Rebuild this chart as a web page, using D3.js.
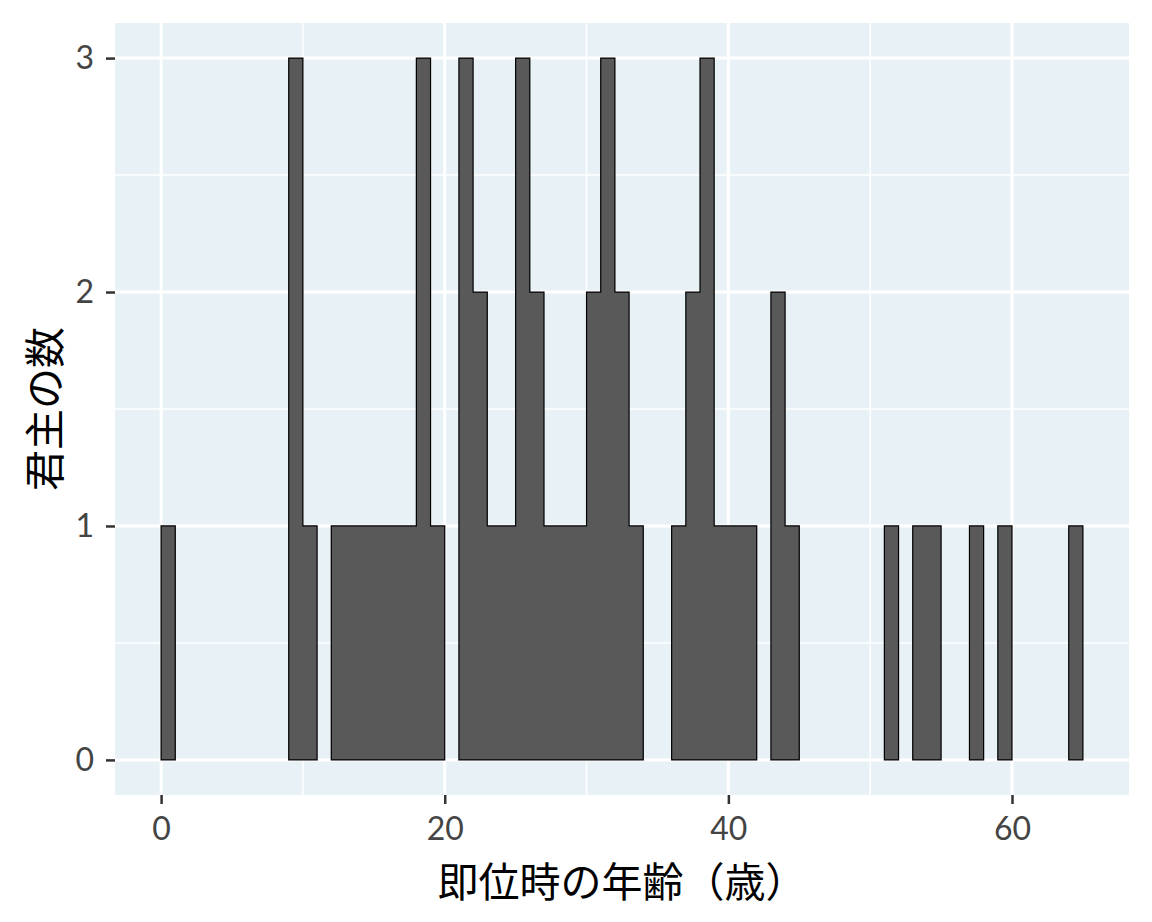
<!DOCTYPE html>
<meta charset="utf-8">
<style>
body { margin: 0; background: white; }
.tick text { font-family: Lato, "Noto Sans", sans-serif; }
</style>
<body>
<script src="https://d3js.org/d3.v7.min.js"></script>
<script>

// histogram bins of width 1: lower edge of each non-empty bin and its count
var binStarts = [0, 9, 10, 12, 13, 14, 15, 16, 17, 18, 19, 21, 22, 23, 24, 25, 26, 27, 28, 29,
                 30, 31, 32, 33, 36, 37, 38, 39, 40, 41, 43, 44, 51, 53, 54, 57, 59, 64];
var binCounts = [1, 3, 1, 1, 1, 1, 1, 1, 1, 3, 1, 3, 2, 1, 1, 3, 2, 1, 1, 1,
                 2, 3, 2, 1, 1, 2, 3, 1, 1, 1, 2, 1, 1, 1, 1, 1, 1, 1];
var binWidth = 1;

var xTicks = [0, 20, 40, 60];
var xMinor = [10, 30, 50];
var yTicks = [0, 1, 2, 3];
var yMinor = [0.5, 1.5, 2.5];

var xTitle = "即位時の年齢（歳）";
var yTitle = "君主の数";

var width = 1152,
    height = 922;

var panel = {left: 115, right: 1129, top: 23, bottom: 795};

var svg = d3.select("body").append("svg")
    .attr("width", width)
    .attr("height", height);

var x = d3.scaleLinear()
    .domain([-3.25, 68.25])
    .range([panel.left, panel.right]);

var y = d3.scaleLinear()
    .domain([-0.15, 3.15])
    .range([panel.bottom, panel.top]);

// panel background
svg.append("rect")
    .attr("x", panel.left)
    .attr("y", panel.top)
    .attr("width", panel.right - panel.left)
    .attr("height", panel.bottom - panel.top)
    .attr("fill", "#e8f1f5");

var grid = svg.append("g");

grid.selectAll(".xminor").data(xMinor).enter().append("line")
    .attr("x1", d => x(d)).attr("x2", d => x(d))
    .attr("y1", panel.top).attr("y2", panel.bottom)
    .attr("stroke", "white").attr("stroke-width", 1.5);
grid.selectAll(".yminor").data(yMinor).enter().append("line")
    .attr("y1", d => y(d)).attr("y2", d => y(d))
    .attr("x1", panel.left).attr("x2", panel.right)
    .attr("stroke", "white").attr("stroke-width", 1.5);
grid.selectAll(".xmajor").data(xTicks).enter().append("line")
    .attr("x1", d => x(d)).attr("x2", d => x(d))
    .attr("y1", panel.top).attr("y2", panel.bottom)
    .attr("stroke", "white").attr("stroke-width", 3);
grid.selectAll(".ymajor").data(yTicks).enter().append("line")
    .attr("y1", d => y(d)).attr("y2", d => y(d))
    .attr("x1", panel.left).attr("x2", panel.right)
    .attr("stroke", "white").attr("stroke-width", 3);

var bins = binStarts.map((s, i) => ({x0: s, x1: s + binWidth, count: binCounts[i]}));

// bars (fill only)
svg.append("g").selectAll("rect")
    .data(bins)
    .enter().append("rect")
    .attr("x", d => x(d.x0))
    .attr("width", d => x(d.x1) - x(d.x0))
    .attr("y", d => y(d.count))
    .attr("height", d => y(0) - y(d.count))
    .attr("fill", "#595959")
    .attr("shape-rendering", "crispEdges");

// outline round each run of touching bins (also filled, hides seams)
var runs = [];
bins.forEach(function(b) {
  var last = runs[runs.length - 1];
  if (last && last[last.length - 1].x1 === b.x0) last.push(b);
  else runs.push([b]);
});

var step = d3.line()
    .x(d => x(d[0]))
    .y(d => y(d[1]))
    .curve(d3.curveStepAfter);

svg.append("g").selectAll("path")
    .data(runs)
    .enter().append("path")
    .attr("d", function(run) {
      var pts = [[run[0].x0, 0]];
      run.forEach(b => pts.push([b.x0, b.count]));
      pts.push([run[run.length - 1].x1, 0]);
      return step(pts) + "Z";
    })
    .attr("fill", "#595959")
    .attr("stroke", "black")
    .attr("stroke-width", 1.2);

// axes
var xAxis = svg.append("g")
    .attr("transform", "translate(0," + panel.bottom + ")")
    .call(d3.axisBottom(x).tickValues(xTicks).tickSize(9).tickPadding(13).tickFormat(d3.format("d")));
var yAxis = svg.append("g")
    .attr("transform", "translate(" + panel.left + ",0)")
    .call(d3.axisLeft(y).tickValues(yTicks).tickSize(9).tickPadding(12).tickFormat(d3.format("d")));

[xAxis, yAxis].forEach(function(a) {
  a.select(".domain").remove();
  a.selectAll(".tick line").attr("stroke", "#333").attr("stroke-width", 2.5);
  a.selectAll(".tick text").attr("fill", "#444").style("font-size", "32px");
});

// titles
svg.append("text")
    .attr("x", (panel.left + panel.right) / 2)
    .attr("y", 879)
    .attr("text-anchor", "middle")
    .attr("dominant-baseline", "central")
    .style("font-family", "'Noto Sans CJK JP', sans-serif")
    .style("font-size", "41px")
    .attr("fill", "black")
    .text(xTitle);

svg.append("text")
    .attr("transform", "translate(42," + ((panel.top + panel.bottom) / 2) + ") rotate(-90)")
    .attr("text-anchor", "middle")
    .attr("dominant-baseline", "central")
    .style("font-family", "'Noto Sans CJK JP', sans-serif")
    .style("font-size", "41px")
    .attr("fill", "black")
    .text(yTitle);

</script>
</body>
</html>
